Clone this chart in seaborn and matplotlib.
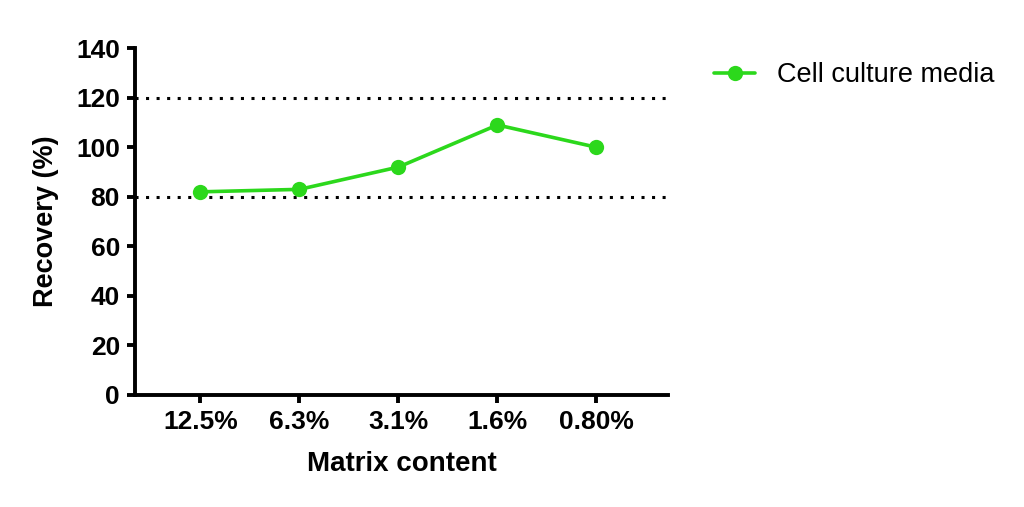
import matplotlib
matplotlib.use("Agg")
import matplotlib.pyplot as plt
import numpy as np
import pandas as pd
import seaborn as sns

# data
matrix_content = ["12.5%", "6.3%", "3.1%", "1.6%", "0.80%"]
recovery = [82, 83, 92, 109, 100]
series_name = "Cell culture media"
ref_lines = [80, 120]

sns.set_style("ticks")
plt.rcParams["font.family"] = ["Liberation Sans", "DejaVu Sans"]
plt.rcParams["text.color"] = "black"
plt.rcParams["axes.labelcolor"] = "black"
plt.rcParams["xtick.color"] = "black"
plt.rcParams["ytick.color"] = "black"

df = pd.DataFrame({"pos": np.arange(len(matrix_content)), "recovery": recovery,
                   "series": series_name})

fig = plt.figure(figsize=(10.24, 5.07), dpi=100)
ax = fig.add_axes([0.132, 0.221, 0.52, 0.684])

green = "#2CD81C"
sns.lineplot(data=df, x="pos", y="recovery", hue="series", palette=[green],
             marker="o", markersize=11, markeredgewidth=0, linewidth=2.6, ax=ax)

for v in ref_lines:
    ax.axhline(v, color="black", linestyle=(0, (1, 2.45)), linewidth=2.2, zorder=1)

ax.set_xlim(-0.66, 4.72)
ax.set_ylim(0, 140)
ax.set_yticks(np.arange(0, 141, 20))
ax.set_xticks(df["pos"])
ax.set_xticklabels(matrix_content)

for s in ["top", "right"]:
    ax.spines[s].set_visible(False)
for s in ["left", "bottom"]:
    ax.spines[s].set_linewidth(2.8)
    ax.spines[s].set_color("black")
ax.tick_params(axis="both", width=2.8, length=6, direction="out", labelsize=19, pad=5)
for lbl in ax.get_xticklabels() + ax.get_yticklabels():
    lbl.set_fontweight("bold")

ax.set_xlabel("Matrix content", fontsize=20, fontweight="bold", labelpad=12)
ax.set_ylabel("Recovery (%)", fontsize=19.5, fontweight="bold", labelpad=12)

leg = ax.legend(loc="upper left", bbox_to_anchor=(1.042, 1.03), frameon=False,
                fontsize=19.5, handlelength=1.5, handletextpad=0.8)

fig.savefig("out.png", dpi=100)
